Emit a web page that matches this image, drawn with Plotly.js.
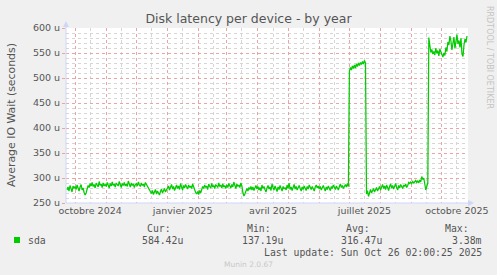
<!DOCTYPE html>
<html><head><meta charset="utf-8">
<script src="https://cdn.plot.ly/plotly-3.0.1.min.js"></script>
<style>html,body{margin:0;padding:0;background:#f0f0f0;} #chart{width:497px;height:275px;}</style>
</head><body><div id="chart"></div>
<script>
// Daily average IO wait, in microseconds (u)
const sep2024 = [276,282,274,285,279,272,284,280]; // from Sep 23
const oct2024 = [283,277,286,279,274,282,287,276,280,271,266,270,279,285,281,289,284,291,283,287,280,290,286,282,293,285,288,281,290,284,287];
const nov2024 = [283,291,286,280,289,284,292,285,288,282,290,286,284,293,287,281,289,285,291,284,288,283,294,286,282,290,285,288,281,287];
const dec2024 = [289,284,292,286,283,290,285,288,282,291,287,284,280,276,273,269,275,267,272,277,268,274,270,266,273,278,270,275,279,272,277];
const jan2025 = [279,284,276,282,287,278,283,275,281,286,279,284,277,289,282,276,285,280,287,283,278,286,281,284,279,288,282,275,271,268,273];
const feb2025 = [267,275,270,278,283,279,286,281,284,277,288,283,280,289,282,285,279,287,284,281,290,283,286,280,288,282,285,279];
const mar2025 = [286,281,289,283,280,287,282,292,285,279,288,283,286,281,290,284,271,264,268,275,279,274,281,277,283,276,282,275,280,285,278];
const apr2025 = [283,276,281,274,286,279,283,277,272,280,285,278,282,275,288,281,276,284,279,273,282,277,285,280,274,283,278,281,276,286];
const may2025 = [279,290,277,282,275,281,287,278,283,276,280,285,279,274,282,277,284,280,275,283,278,286,281,277,283,279,274,282,286,280,284];
const jun2025 = [278,283,276,281,285,279,274,282,277,284,280,275,283,279,286,281,277,284,280,276,283,288,281,285,279,284,287,282,289,283];
const jul2025 = [514,521,516,524,519,526,520,528,523,530,525,531,527,533,528,535,530,268,275,263,271,277,270,274,279,272,276,281,274,278,283];
const aug2025 = [276,282,287,279,284,277,286,281,275,283,288,280,285,278,284,289,281,276,285,280,287,282,279,286,283,288,281,285,291,289,292];
const sep2025 = [289,293,290,292,295,291,294,290,296,292,303,297,300,288,276,283,290,581,566,551,557,548,553,546,560,549,555,544,558,552];
const oct2025 = [547,542,550,545,561,553,572,566,584,574,556,570,582,559,577,587,568,575,561,580,548,543,566,578,571,584];

const months = [
  ['2024-09', 23, sep2024], ['2024-10', 1, oct2024], ['2024-11', 1, nov2024], ['2024-12', 1, dec2024],
  ['2025-01', 1, jan2025], ['2025-02', 1, feb2025], ['2025-03', 1, mar2025], ['2025-04', 1, apr2025],
  ['2025-05', 1, may2025], ['2025-06', 1, jun2025], ['2025-07', 1, jul2025], ['2025-08', 1, aug2025],
  ['2025-09', 1, sep2025], ['2025-10', 1, oct2025]
];

const monthLabels = ['octobre 2024','janvier 2025','avril 2025','juillet 2025','octobre 2025'];
const labelDates = ['2024-10-16','2025-01-16','2025-04-16','2025-07-16','2025-10-16'];
const legendHeaders = ['Cur:','Min:','Avg:','Max:'];
const legendValues = ['584.42u','137.19u','316.47u','3.38m'];
const seriesName = 'sda';
const lastUpdate = 'Last update: Sun Oct 26 02:00:25 2025';

const dates = [], vals = [];
months.forEach(([ym, first, arr]) => {
  arr.forEach((v, i) => {
    const d = first + i;
    dates.push(ym + '-' + (d < 10 ? '0' + d : d));
    vals.push(v);
  });
});

const L = 66, R = 468, T = 28, B = 203;
const px = x => (x - L) / (R - L);
const py = y => (B - y) / (B - T);

const gridMajor = '#e9a5a5', gridMinor = '#d6d6d6', axisCol = '#cfd6f8', txt = '#555555';
const xRange = ['2024-09-22', '2025-10-27'];

const traces = [
  {x: dates, y: vals, type: 'scatter', mode: 'lines', line: {color: '#00cc00', width: 1.25}, hoverinfo: 'skip', xaxis: 'x', yaxis: 'y'},
  {x: [dates[0]], y: [null], type: 'scatter', mode: 'lines', xaxis: 'x2', yaxis: 'y', hoverinfo: 'skip'}
];

const mono = {family: 'DejaVu Sans Mono', size: 9.8, color: txt};
const annotations = [
  {text: 'Average IO Wait (seconds)', textangle: -90, x: px(11), y: py(115), xref: 'paper', yref: 'paper', showarrow: false, xanchor: 'center', yanchor: 'middle', font: {family: 'DejaVu Sans', size: 10.9, color: txt}},
  {text: 'RRDTOOL / TOBI OETIKER', textangle: 90, x: px(490), y: py(57), xref: 'paper', yref: 'paper', showarrow: false, xanchor: 'center', yanchor: 'middle', font: {family: 'DejaVu Sans', size: 8, color: '#c4c4c4'}},
  {text: seriesName, x: px(26), y: py(240), xref: 'paper', yref: 'paper', showarrow: false, xanchor: 'left', yanchor: 'middle', font: mono},
  {text: lastUpdate, x: px(484), y: py(252), xref: 'paper', yref: 'paper', showarrow: false, xanchor: 'right', yanchor: 'middle', font: mono},
  {text: 'Munin 2.0.67', x: px(248), y: py(264), xref: 'paper', yref: 'paper', showarrow: false, xanchor: 'center', yanchor: 'middle', font: {family: 'DejaVu Sans', size: 7.5, color: '#c8c8c8'}}
];
const hdrRight = [173, 273, 372, 471];
const valRight = [185, 285, 384, 484];
legendHeaders.forEach((h, i) => annotations.push({text: h, x: px(hdrRight[i]), y: py(228), xref: 'paper', yref: 'paper', showarrow: false, xanchor: 'right', yanchor: 'middle', font: mono}));
legendValues.forEach((v, i) => annotations.push({text: v, x: px(valRight[i]), y: py(240), xref: 'paper', yref: 'paper', showarrow: false, xanchor: 'right', yanchor: 'middle', font: mono}));

const shapes = [
  {type: 'rect', xref: 'paper', yref: 'paper', x0: px(14), x1: px(20), y0: py(243), y1: py(237), fillcolor: '#00cc00', line: {width: 0}},
  {type: 'path', xref: 'paper', yref: 'paper', path: `M ${px(63)},${py(27)} L ${px(66)},${py(21)} L ${px(69)},${py(27)} Z`, fillcolor: axisCol, line: {width: 0}},
  {type: 'path', xref: 'paper', yref: 'paper', path: `M ${px(468)},${py(200)} L ${px(474)},${py(203)} L ${px(468)},${py(206)} Z`, fillcolor: axisCol, line: {width: 0}},
  {type: 'line', xref: 'paper', yref: 'paper', x0: 0, x1: 0, y0: py(203), y1: py(25), line: {color: axisCol, width: 1}},
  {type: 'line', xref: 'paper', yref: 'paper', x0: 0, x1: px(470), y0: 0, y1: 0, line: {color: axisCol, width: 1}}
];

const layout = {
  width: 497, height: 275,
  margin: {l: L, r: 497 - R, t: T, b: 275 - B, pad: 0},
  paper_bgcolor: '#f0f0f0', plot_bgcolor: '#ffffff',
  showlegend: false,
  font: {family: 'DejaVu Sans', color: txt},
  title: {text: 'Disk latency per device - by year', font: {family: 'DejaVu Sans', size: 12.5, color: txt}, x: 0.5, xref: 'container', xanchor: 'center', y: 1 - 19 / 275, yref: 'container', yanchor: 'middle'},
  xaxis: {type: 'date', range: xRange, tickmode: 'linear', tick0: '2024-09-01', dtick: 'M1', showticklabels: false, ticks: '',
    showgrid: true, gridcolor: gridMajor, griddash: 'dot', gridwidth: 1, showline: false, zeroline: false, fixedrange: true,
    minor: {tick0: '2024-09-16', dtick: 'M1', showgrid: true, gridcolor: gridMinor, griddash: 'dot', gridwidth: 1, ticks: ''}},
  xaxis2: {type: 'date', range: xRange, overlaying: 'x', anchor: 'y', side: 'bottom', tickmode: 'array', tickvals: labelDates, ticktext: monthLabels,
    showgrid: false, showline: false, zeroline: false, ticks: '', tickfont: {family: 'DejaVu Sans', size: 9.5, color: txt}, fixedrange: true},
  yaxis: {range: [250, 600], tickmode: 'linear', tick0: 250, dtick: 50, ticksuffix: ' u', showgrid: true, gridcolor: gridMajor, griddash: 'dot', gridwidth: 1,
    showline: false, zeroline: false, ticks: 'outside', ticklen: 3, tickcolor: gridMajor, tickfont: {family: 'DejaVu Sans', size: 9.5, color: txt}, fixedrange: true,
    minor: {tick0: 250, dtick: 10, showgrid: true, gridcolor: gridMinor, griddash: 'dot', gridwidth: 1, ticks: ''}},
  annotations, shapes
};

Plotly.newPlot('chart', traces, layout, {staticPlot: true, displayModeBar: false});
</script>
</body></html>
